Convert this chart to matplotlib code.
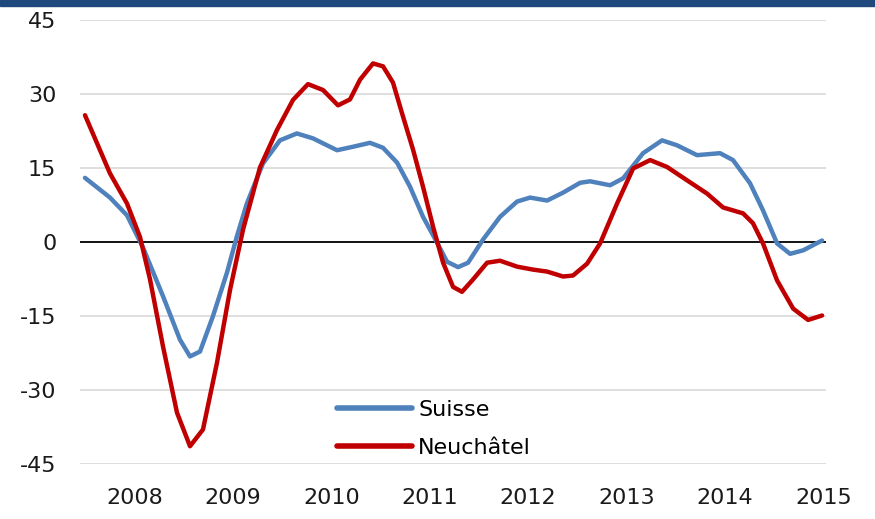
import matplotlib
matplotlib.use("Agg")
import matplotlib.pyplot as plt
from matplotlib.patches import Rectangle

plt.rcParams["axes.unicode_minus"] = False

# decimal years and values
suisse_x = [2007.497, 2007.751, 2007.924, 2008.086, 2008.290, 2008.462, 2008.564,
            2008.666, 2008.798, 2008.940, 2009.040, 2009.142, 2009.305, 2009.478,
            2009.650, 2009.814, 2010.058, 2010.220, 2010.393, 2010.525, 2010.668,
            2010.800, 2010.932, 2011.074, 2011.176, 2011.288, 2011.390, 2011.542,
            2011.715, 2011.888, 2012.020, 2012.193, 2012.355, 2012.528, 2012.630,
            2012.833, 2012.965, 2013.168, 2013.361, 2013.513, 2013.716, 2013.950,
            2014.082, 2014.255, 2014.387, 2014.530, 2014.662, 2014.794, 2014.987]
suisse_y = [13.0, 9.0, 5.4, -1.1, -11.0, -19.8, -23.2,
            -22.2, -15.0, -6.2, 1.1, 7.8, 15.9, 20.6,
            22.0, 21.0, 18.6, 19.3, 20.1, 19.1, 16.1,
            11.2, 5.1, -0.1, -4.0, -5.1, -4.2, 0.5,
            5.1, 8.2, 9.0, 8.4, 10.0, 12.0, 12.3,
            11.5, 12.9, 18.0, 20.6, 19.6, 17.6, 18.0,
            16.6, 11.9, 6.4, -0.3, -2.4, -1.7, 0.3]

neuch_x = [2007.497, 2007.751, 2007.924, 2008.056, 2008.158, 2008.290, 2008.432,
           2008.564, 2008.696, 2008.838, 2008.971, 2009.103, 2009.275, 2009.448,
           2009.611, 2009.763, 2009.916, 2010.068, 2010.190, 2010.292, 2010.424,
           2010.526, 2010.627, 2010.729, 2010.831, 2010.932, 2011.034, 2011.136,
           2011.237, 2011.328, 2011.440, 2011.583, 2011.715, 2011.888, 2012.050,
           2012.193, 2012.355, 2012.456, 2012.599, 2012.731, 2012.904, 2013.067,
           2013.240, 2013.412, 2013.615, 2013.819, 2013.981, 2014.184, 2014.285,
           2014.387, 2014.530, 2014.693, 2014.845, 2014.987]
neuch_y = [25.7, 13.9, 7.8, 1.0, -7.6, -21.2, -34.6,
           -41.4, -38.0, -24.5, -9.7, 2.5, 15.1, 22.7,
           28.8, 32.0, 30.8, 27.7, 28.9, 32.9, 36.2,
           35.6, 32.3, 25.4, 18.7, 11.2, 3.1, -4.2,
           -9.1, -10.1, -7.6, -4.2, -3.8, -5.0, -5.6,
           -6.0, -7.0, -6.8, -4.4, -0.3, 7.8, 14.9,
           16.6, 15.2, 12.5, 9.8, 7.0, 5.8, 3.8,
           -0.3, -7.8, -13.5, -15.8, -14.9]

years = [2008, 2009, 2010, 2011, 2012, 2013, 2014, 2015]
yticks = [45, 30, 15, 0, -15, -30, -45]

fig = plt.figure(figsize=(8.75, 5.19), dpi=100)
ax = fig.add_axes([0.0914, 0.106, 0.8526, 0.8555])

# title bar remnant at the top
fig.patches.append(Rectangle((0, 1 - 6 / 519), 1, 6 / 519, transform=fig.transFigure,
                             color="#1F497D", zorder=0))

for v in yticks:
    if v != 0:
        ax.axhline(v, color="#D9D9D9", lw=1.2, zorder=0)
ax.axhline(0, color="black", lw=1.3, zorder=1)

ax.plot(suisse_x, suisse_y, color="#4F81BD", lw=3.2, solid_joinstyle="round",
        solid_capstyle="round", label="Suisse", zorder=3)
ax.plot(neuch_x, neuch_y, color="#C00000", lw=3.2, solid_joinstyle="round",
        solid_capstyle="round", label="Neuchâtel", zorder=3)

ax.set_xlim(2007.446, 2015.027)
ax.set_ylim(-45, 45)
ax.set_yticks(yticks)
ax.set_xticks(years)
ax.set_xticklabels([str(y) for y in years])
ax.tick_params(length=0, labelsize=16, colors="#1a1a1a")
ax.tick_params(axis="y", pad=17)
ax.tick_params(axis="x", pad=17)
for s in ax.spines.values():
    s.set_visible(False)

leg = ax.legend(loc="upper left", bbox_to_anchor=(0.332, 0.165), frameon=False,
                fontsize=16, handlelength=3.4, handletextpad=0.27,
                labelspacing=0.82, borderaxespad=0)
for line in leg.get_lines():
    line.set_linewidth(4.0)

fig.savefig("out.png", dpi=100)
